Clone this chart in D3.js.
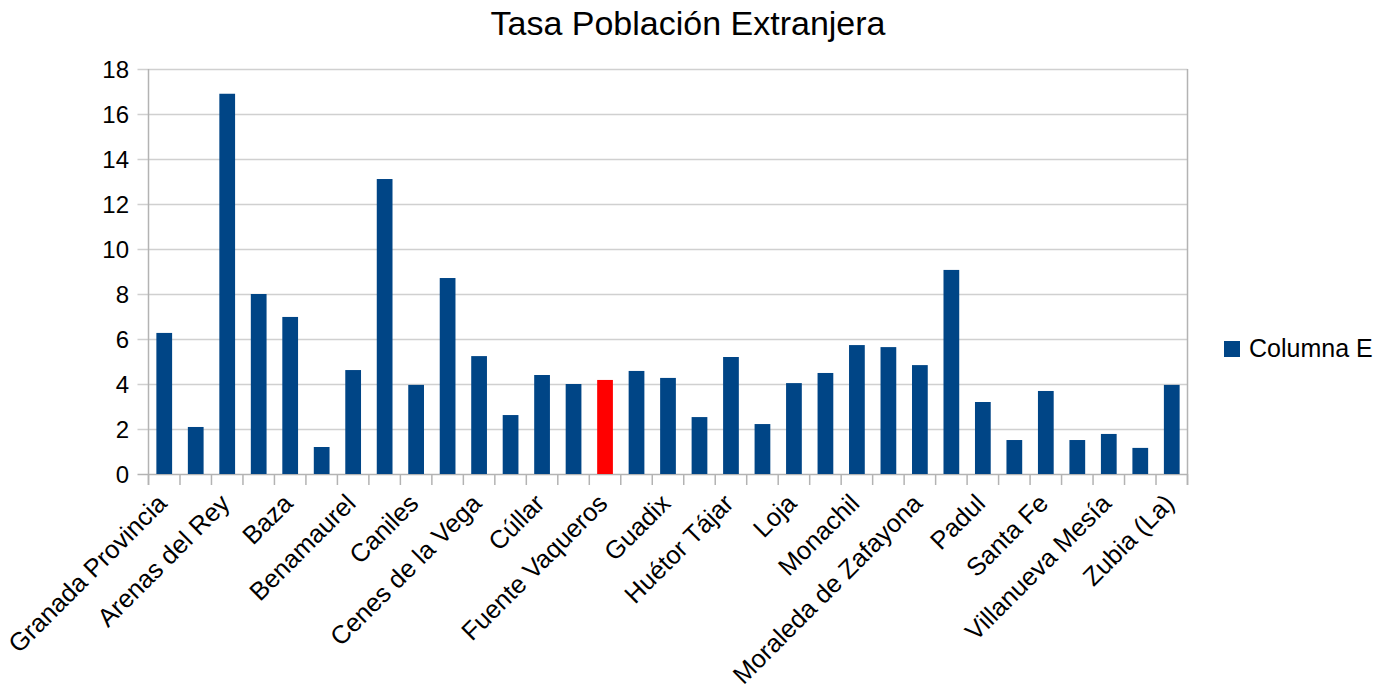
<!DOCTYPE html>
<html>
<head>
<meta charset="utf-8">
<script src="https://cdn.jsdelivr.net/npm/d3@7"></script>
<style>
  html, body { margin: 0; padding: 0; background: #ffffff; }
  svg { display: block; font-family: "Liberation Sans", Arial, sans-serif; }
</style>
</head>
<body>
<svg id="chart" width="1393" height="693"></svg>
<script>
const title = "Tasa Población Extranjera";
const seriesName = "Columna E";
const categories = [
  "Granada Provincia", "Alhama de Granada", "Arenas del Rey", "Atarfe", "Baza",
  "Benalúa", "Benamaurel", "Cájar", "Caniles", "Castril", "Cenes de la Vega",
  "Churriana de la Vega", "Cúllar", "Dúrcal", "Fuente Vaqueros", "Gabias (Las)",
  "Guadix", "Huéscar", "Huétor Tájar", "Huétor Vega", "Loja", "Maracena",
  "Monachil", "Montefrío", "Moraleda de Zafayona", "Motril", "Padul",
  "Pinos Puente", "Santa Fe", "Vegas del Genil", "Villanueva Mesía", "Zafarraya",
  "Zubia (La)"
];
const values = [
  6.27, 2.09, 16.9, 8.0, 6.98,
  1.2, 4.62, 13.11, 3.96, 8.71, 5.24,
  2.62, 4.4, 4.0, 4.18, 4.58,
  4.27, 2.53, 5.2, 2.22, 4.04, 4.49,
  5.73, 5.64, 4.84, 9.07, 3.2,
  1.51, 3.69, 1.51, 1.78, 1.16,
  3.96
];
const highlighted = ["Fuente Vaqueros"];
const yTicks = [0, 2, 4, 6, 8, 10, 12, 14, 16, 18];

const data = categories.map((c, i) => ({ name: c, value: values[i] }));

const svg = d3.select("#chart");
const plot = { left: 148.5, right: 1187.5, top: 69, bottom: 474 };

const x = d3.scaleBand()
  .domain(categories)
  .range([plot.left, plot.right])
  .paddingInner(0.5)
  .paddingOuter(0.25);

const y = d3.scaleLinear().domain([0, 18]).range([plot.bottom, plot.top]);

const gridColor = "#d0d0d0";
const axisColor = "#b3b3b3";

// horizontal gridlines
svg.append("g").selectAll("line").data(yTicks).join("line")
  .attr("x1", plot.left - 11).attr("x2", plot.right)
  .attr("y1", d => Math.round(y(d)) + 0.5).attr("y2", d => Math.round(y(d)) + 0.5)
  .attr("stroke", d => d === 0 ? axisColor : gridColor)
  .attr("stroke-width", 1.5);

// right border
svg.append("line")
  .attr("x1", plot.right).attr("x2", plot.right)
  .attr("y1", y(18)).attr("y2", y(0) + 11)
  .attr("stroke", axisColor).attr("stroke-width", 1.5);

// y axis line
svg.append("line")
  .attr("x1", plot.left).attr("x2", plot.left)
  .attr("y1", y(18)).attr("y2", y(0) + 11)
  .attr("stroke", axisColor).attr("stroke-width", 1.5);

// x ticks at band boundaries
const step = x.step();
const boundaries = d3.range(categories.length + 1).map(i => plot.left + i * step);
svg.append("g").selectAll("line").data(boundaries).join("line")
  .attr("x1", d => d).attr("x2", d => d)
  .attr("y1", y(0)).attr("y2", y(0) + 11)
  .attr("stroke", axisColor).attr("stroke-width", 1.5);

// y tick labels
svg.append("g").selectAll("text").data(yTicks).join("text")
  .attr("x", 129).attr("y", d => y(d))
  .attr("dy", "0.36em")
  .attr("text-anchor", "end")
  .attr("font-size", 24)
  .attr("fill", "#000")
  .text(d => d);

// bars
svg.append("g").selectAll("rect").data(data).join("rect")
  .attr("x", d => x(d.name))
  .attr("width", x.bandwidth())
  .attr("y", d => y(d.value))
  .attr("height", d => y(0) - y(d.value))
  .attr("fill", d => highlighted.includes(d.name) ? "#ff0000" : "#004586");

// x labels (every other category)
svg.append("g").selectAll("text").data(data.filter((d, i) => i % 2 === 0)).join("text")
  .attr("transform", d => `translate(${x(d.name) + x.bandwidth() / 2 + 4},${y(0) + 31}) rotate(-45)`)
  .attr("text-anchor", "end")
  .attr("font-size", 25.5)
  .attr("fill", "#000")
  .text(d => d.name);

// title
svg.append("text")
  .attr("x", 688).attr("y", 35)
  .attr("text-anchor", "middle")
  .attr("font-size", 34)
  .attr("fill", "#000")
  .text(title);

// legend
const lg = svg.append("g").attr("transform", "translate(1224,341)");
lg.append("rect").attr("width", 16).attr("height", 16).attr("fill", "#004586");
lg.append("text").attr("x", 25).attr("y", 16).attr("font-size", 25).attr("fill", "#000").text(seriesName);
</script>
</body>
</html>
